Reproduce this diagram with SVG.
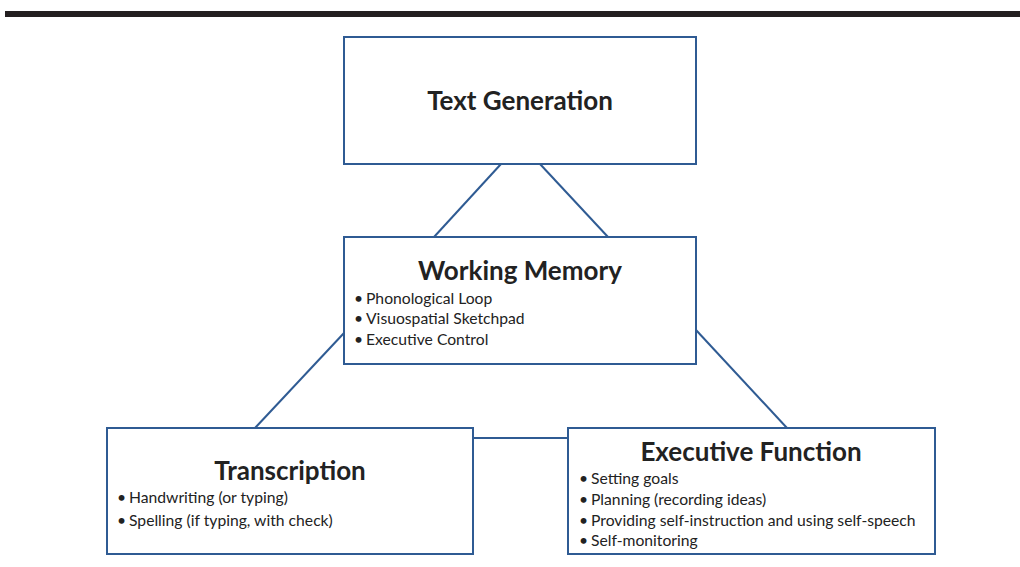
<svg xmlns="http://www.w3.org/2000/svg" width="1020" height="567" viewBox="0 0 1020 567">
<style>
.box{fill:#fff;stroke:#2f5b93;stroke-width:2}
.conn{stroke:#2f5b93;stroke-width:2;fill:none}
.title{font-family:Lato,"Open Sans","Liberation Sans",sans-serif;font-weight:bold;font-size:26px;fill:#222;text-anchor:middle}
.item{font-family:Lato,"Open Sans","Liberation Sans",sans-serif;font-size:15.7px;fill:#222}
</style>
<rect x="0" y="0" width="1020" height="567" fill="#fff"/>
<rect x="5" y="11" width="1015" height="6" fill="#231f20"/>
<g id="connectors">
<line class="conn" x1="501" y1="164" x2="434" y2="237"/>
<line class="conn" x1="540" y1="164" x2="608" y2="237"/>
<line class="conn" x1="344" y1="333" x2="255" y2="428"/>
<line class="conn" x1="696" y1="330" x2="787" y2="428"/>
<line class="conn" x1="473" y1="438" x2="568" y2="438"/>
</g>
<g id="text-generation">
<rect class="box" x="344" y="37" width="352" height="127"/>
<text class="title" x="520" y="110">Text Generation</text>
</g>
<g id="working-memory">
<rect class="box" x="344" y="237" width="352" height="127"/>
<text class="title" x="520" y="280">Working Memory</text>
<text class="item" y="304"><tspan x="354">•</tspan><tspan x="366">Phonological Loop</tspan></text>
<text class="item" y="324"><tspan x="354">•</tspan><tspan x="366">Visuospatial Sketchpad</tspan></text>
<text class="item" y="345"><tspan x="354">•</tspan><tspan x="366">Executive Control</tspan></text>
</g>
<g id="transcription">
<rect class="box" x="107" y="428" width="366" height="126"/>
<text class="title" x="290" y="480">Transcription</text>
<text class="item" y="503"><tspan x="117">•</tspan><tspan x="129">Handwriting (or typing)</tspan></text>
<text class="item" y="526"><tspan x="117">•</tspan><tspan x="129">Spelling (if typing, with check)</tspan></text>
</g>
<g id="executive-function">
<rect class="box" x="568" y="428" width="367" height="126"/>
<text class="title" x="751" y="461">Executive Function</text>
<text class="item" y="484"><tspan x="579">•</tspan><tspan x="591">Setting goals</tspan></text>
<text class="item" y="505"><tspan x="579">•</tspan><tspan x="591">Planning (recording ideas)</tspan></text>
<text class="item" y="526"><tspan x="579">•</tspan><tspan x="591">Providing self-instruction and using self-speech</tspan></text>
<text class="item" y="546"><tspan x="579">•</tspan><tspan x="591">Self-monitoring</tspan></text>
</g>
</svg>
